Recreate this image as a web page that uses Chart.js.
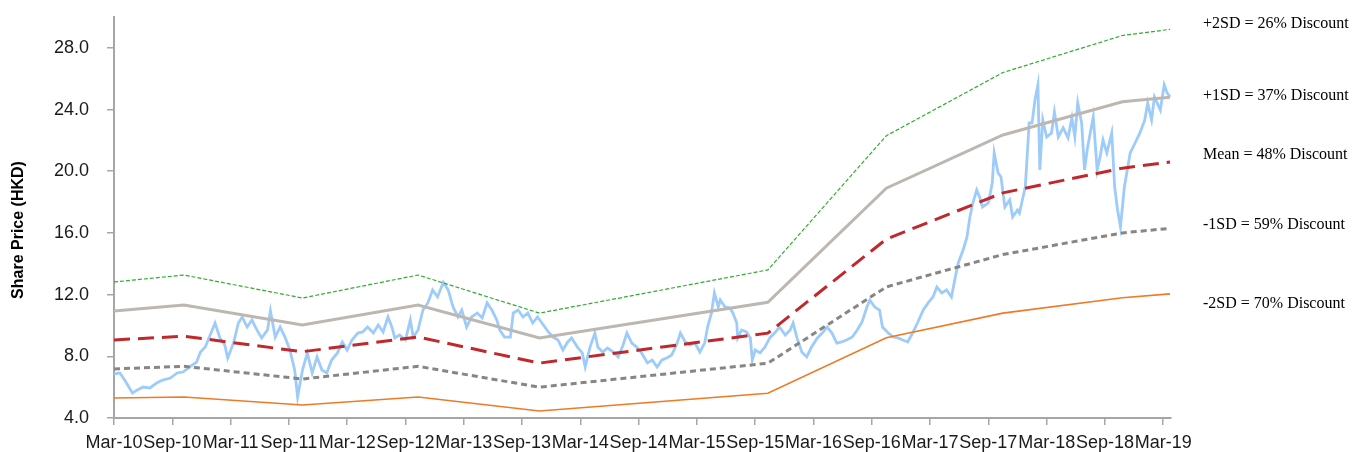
<!DOCTYPE html>
<html>
<head>
<meta charset="utf-8">
<title>Share Price (HKD)</title>
<script src="https://cdn.jsdelivr.net/npm/chart.js@4.4.1/dist/chart.umd.min.js"></script>
<style>
    html, body { margin: 0; padding: 0; background: #ffffff; }
</style>
</head>
<body>
<canvas id="grafico" width="1355" height="452"></canvas>
<script>
// x values are months counted from Mar-10
var tickLabels = ['Mar-10', 'Sep-10', 'Mar-11', 'Sep-11', 'Mar-12', 'Sep-12', 'Mar-13', 'Sep-13', 'Mar-14', 'Sep-14',
    'Mar-15', 'Sep-15', 'Mar-16', 'Sep-16', 'Mar-17', 'Sep-17', 'Mar-18', 'Sep-18', 'Mar-19'];
var yTicks = [4, 8, 12, 16, 20, 24, 28];

var bandMonths = [0, 7.2, 19.4, 31.3, 43.8, 67.3, 79.5, 91.5, 103.8, 108.7];
var plus2SD  = [12.82, 13.27, 11.78, 13.27, 10.80, 13.60, 22.30, 26.40, 28.80, 29.20];
var plus1SD  = [10.94, 11.33, 10.03, 11.33, 9.19, 11.50, 18.90, 22.35, 24.50, 24.80];
var meanBand = [9.06, 9.30, 8.30, 9.25, 7.56, 9.50, 15.60, 18.60, 20.20, 20.60];
var minus1SD = [7.18, 7.35, 6.53, 7.35, 6.00, 7.55, 12.50, 14.60, 16.00, 16.30];
var minus2SD = [5.30, 5.36, 4.84, 5.36, 4.45, 5.60, 9.20, 10.80, 11.80, 12.05];

var priceMonths = [
    0, 0.6, 1.1, 1.9, 2.4, 3.0, 3.7, 4.4, 5.0, 5.8,
    6.5, 7.1, 7.8, 8.5, 8.9, 9.4, 9.9, 10.4, 10.9, 11.4,
    11.7, 12.3, 12.8, 13.2, 13.7, 14.2, 14.7, 15.2, 15.8, 16.1,
    16.6, 17.1, 17.6, 18.1, 18.6, 18.9, 19.4, 19.9, 20.4, 20.9,
    21.4, 21.9, 22.4, 23.0, 23.5, 24.0, 24.5, 25.1, 25.6, 26.1,
    26.7, 27.2, 27.7, 28.2, 28.6, 28.9, 29.4, 30.0, 30.5, 30.8,
    31.3, 31.8, 32.3, 32.8, 33.3, 33.9, 34.4, 34.9, 35.4, 35.8,
    36.3, 36.8, 37.4, 37.9, 38.4, 38.9, 39.4, 39.7, 40.2, 40.8,
    41.1, 41.6, 42.1, 42.6, 43.1, 43.6, 44.2, 44.7, 45.2, 45.7,
    46.2, 46.7, 47.1, 47.7, 48.2, 48.5, 49.0, 49.5, 49.8, 50.3,
    50.8, 51.4, 51.9, 52.4, 52.8, 53.3, 53.8, 54.3, 54.9, 55.4,
    55.9, 56.4, 56.9, 57.4, 57.9, 58.3, 58.8, 59.3, 59.8, 60.3,
    60.8, 61.1, 61.5, 61.8, 62.2, 62.4, 62.9, 63.4, 63.7, 64.1,
    64.2, 64.6, 65.1, 65.5, 65.7, 66.0, 66.5, 67.0, 67.5, 68.0,
    68.5, 69.1, 69.6, 69.9, 70.3, 70.8, 71.3, 71.8, 72.4, 72.9,
    73.4, 73.9, 74.4, 74.9, 75.4, 76.0, 76.5, 77.0, 77.5, 77.8,
    78.3, 78.8, 79.1, 79.7, 80.2, 80.7, 81.2, 81.7, 82.2, 82.7,
    83.3, 83.8, 84.3, 84.7, 85.2, 85.7, 86.2, 86.6, 86.9, 87.4,
    87.8, 88.1, 88.4, 88.8, 89.1, 89.4, 90.0, 90.4, 90.6, 91.0,
    91.3, 91.7, 92.2, 92.5, 93.0, 93.2, 93.8, 94.2, 94.5, 94.8,
    95.1, 95.3, 95.6, 96.0, 96.5, 96.8, 97.2, 97.7, 98.2, 98.6,
    98.9, 99.2, 99.6, 99.9, 100.2, 100.8, 101.2, 101.5, 101.8, 102.2,
    102.7, 103.0, 103.3, 103.6, 104.0, 104.6, 105.1, 105.6, 106.1, 106.4,
    106.8, 107.1, 107.7, 108.1, 108.4, 108.7
];
var priceValues = [
    6.85, 6.92, 6.46, 5.62, 5.82, 6.01, 5.95, 6.27, 6.46, 6.59,
    6.92, 6.98, 7.31, 7.63, 8.28, 8.60, 9.38, 10.16, 9.19, 8.73,
    7.89, 8.86, 10.16, 10.55, 9.90, 10.36, 9.71, 9.19, 9.71, 10.94,
    9.25, 9.90, 9.25, 8.41, 7.11, 5.36, 7.11, 8.22, 6.92, 7.96,
    7.11, 6.92, 7.76, 8.22, 8.93, 8.41, 9.06, 9.51, 9.58, 9.90,
    9.51, 10.03, 9.58, 10.55, 9.90, 9.19, 9.38, 9.06, 10.36, 9.25,
    9.71, 11.00, 11.46, 12.30, 11.85, 12.80, 12.30, 11.20, 10.55, 11.00,
    9.90, 10.55, 10.81, 10.49, 11.46, 11.00, 10.36, 9.71, 9.25, 9.25,
    10.81, 11.00, 10.55, 10.81, 10.16, 10.55, 10.03, 9.58, 9.25, 9.06,
    8.41, 8.93, 9.19, 8.60, 8.22, 7.31, 8.60, 9.51, 8.60, 8.28,
    8.54, 8.28, 7.96, 8.73, 9.51, 8.86, 8.60, 8.22, 7.57, 7.76,
    7.31, 7.76, 7.89, 8.09, 8.73, 9.51, 8.93, 8.73, 8.86, 8.28,
    8.86, 9.90, 10.81, 12.11, 11.20, 11.65, 11.20, 11.13, 10.81, 10.16,
    9.19, 9.71, 9.58, 9.19, 7.76, 8.41, 8.22, 8.60, 9.19, 9.51,
    9.90, 9.38, 9.71, 10.16, 9.19, 8.28, 7.96, 8.60, 9.19, 9.51,
    9.90, 9.51, 8.86, 8.93, 9.06, 9.25, 9.71, 10.23, 11.20, 11.65,
    11.20, 11.00, 9.90, 9.51, 9.25, 9.19, 9.06, 8.93, 9.51, 10.16,
    11.00, 11.46, 11.85, 12.50, 12.11, 12.30, 11.85, 13.14, 14.05, 14.89,
    15.74, 17.04, 17.94, 18.79, 18.33, 17.68, 17.94, 19.24, 21.19, 19.89,
    19.63, 17.68, 18.14, 17.04, 17.49, 17.29, 18.98, 23.13, 23.13, 24.62,
    25.60, 20.08, 23.33, 22.22, 22.48, 23.84, 22.22, 22.81, 22.16, 23.46,
    22.22, 24.43, 23.13, 20.08, 21.51, 23.52, 20.08, 20.93, 22.03, 21.19,
    22.48, 18.98, 17.49, 16.39, 18.98, 21.19, 21.83, 22.48, 23.33, 24.43,
    23.33, 24.82, 23.97, 25.60, 25.08, 24.82
];

var bandLabels = ['+2SD = 26% Discount', '+1SD = 37% Discount', 'Mean = 48% Discount', '-1SD = 59% Discount', '-2SD = 70% Discount'];
var bandLabelLevels = [29.55, 24.87, 21.07, 16.52, 11.4];

function puntos(meses, valores) {
    var arr = [];
    for (var i = 0; i < meses.length; i++) {
        arr.push({x: meses[i], y: valores[i]});
    }
    return arr;
}

var etiquetas = {
    id: 'etiquetas',
    afterDraw: function (chart) {
        var ctx = chart.ctx;
        var y = chart.scales.y;
        ctx.save();
        ctx.fillStyle = '#000000';
        ctx.font = '16px "Liberation Serif", "Times New Roman", serif';
        ctx.textAlign = 'left';
        ctx.textBaseline = 'middle';
        for (var i = 0; i < bandLabels.length; i++) {
            ctx.fillText(bandLabels[i], chart.chartArea.right + 32, y.getPixelForValue(bandLabelLevels[i]));
        }
        ctx.translate(19, 230);
        ctx.rotate(-Math.PI / 2);
        ctx.textAlign = 'center';
        ctx.font = 'bold 16px "Liberation Sans", Arial, sans-serif';
        ctx.fillText('Share Price (HKD)', 0, 0);
        ctx.restore();
    }
};

var tickFont = {family: '"Liberation Sans", Arial, sans-serif', size: 18};

var GRAFICO = new Chart(document.getElementById('grafico'), {
    type: 'line',
    data: {
        datasets: [
            {data: puntos(bandMonths, plus2SD), borderColor: '#2EAD2E', borderWidth: 1.2, borderDash: [4, 2], order: 1},
            {data: puntos(bandMonths, plus1SD), borderColor: '#BDB7B1', borderWidth: 3, order: 2},
            {data: puntos(bandMonths, meanBand), borderColor: '#C0282C', borderWidth: 3, borderDash: [16, 8], order: 3},
            {data: puntos(bandMonths, minus1SD), borderColor: '#8A8580', borderWidth: 3, borderDash: [6, 4], order: 4},
            {data: puntos(bandMonths, minus2SD), borderColor: '#EE7A26', borderWidth: 1.6, order: 5},
            {data: puntos(priceMonths, priceValues), borderColor: '#9DCBFA', borderWidth: 2.8, order: 10}
        ]
    },
    options: {
        responsive: false,
        animation: false,
        events: [],
        layout: {padding: {top: 17, right: 184, bottom: 0, left: 0}},
        elements: {point: {radius: 0}, line: {tension: 0, fill: false}},
        plugins: {legend: {display: false}, tooltip: {enabled: false}},
        scales: {
            x: {
                type: 'linear',
                min: 0,
                max: 108.8,
                afterBuildTicks: function (scale) {
                    scale.ticks = tickLabels.map(function (l, i) { return {value: i * 6}; });
                },
                afterFit: function (scale) {
                    scale.height = 34;
                    scale.paddingLeft = 0;
                    scale.paddingRight = 0;
                },
                ticks: {
                    autoSkip: false,
                    maxRotation: 0,
                    padding: 7,
                    color: '#1a1a1a',
                    font: tickFont,
                    callback: function (v) { return tickLabels[Math.round(v / 6)]; }
                },
                grid: {drawOnChartArea: false, tickLength: 7, color: '#A6A6A6', lineWidth: 1.5},
                border: {color: '#A6A6A6', width: 2}
            },
            y: {
                min: 4,
                max: 30,
                afterBuildTicks: function (scale) {
                    scale.ticks = yTicks.map(function (v) { return {value: v}; });
                },
                afterFit: function (scale) {
                    scale.width = 114;
                    scale.paddingTop = 0;
                    scale.paddingBottom = 0;
                },
                ticks: {
                    padding: 18,
                    color: '#1a1a1a',
                    font: tickFont,
                    callback: function (v) { return v.toFixed(1); }
                },
                grid: {drawOnChartArea: false, tickLength: 7, color: '#A6A6A6', lineWidth: 1.5},
                border: {color: '#A6A6A6', width: 2}
            }
        }
    },
    plugins: [etiquetas]
});
</script>
</body>
</html>
